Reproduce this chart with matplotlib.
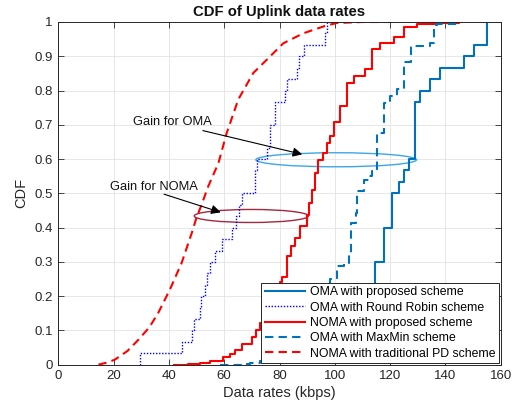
import matplotlib
matplotlib.use("Agg")
import matplotlib.pyplot as plt
from matplotlib.patches import Ellipse

plt.rcParams['font.family'] = ['Liberation Sans', 'DejaVu Sans']

# ---------------- data ----------------
oma_prop_x = [99.5, 103.5, 106.5, 109.5, 112.5, 114.7, 117.7, 120.6, 123.2, 125.0,
              126.8, 128.9, 130.9, 134.6, 138.2, 146.7, 150.2, 155.1]
oma_prop_y = [0.033, 0.067, 0.1, 0.167, 0.2, 0.3, 0.4, 0.5, 0.533, 0.567,
              0.6, 0.767, 0.8, 0.833, 0.867, 0.9, 0.933, 1.0]

oma_rr_x = [29.6, 29.6, 44.9, 48.3, 49.0, 51.1, 51.7, 53.0, 53.7, 55.0, 56.8, 59.2, 62.9,
            64.1, 65.3, 66.5, 71.2, 71.9, 75.5, 76.7, 78.5, 82.1, 82.8, 86.4, 87.0,
            88.8, 96.6, 97.2]
oma_rr_y = [0.0, 0.033, 0.067, 0.1, 0.133, 0.167, 0.2, 0.233, 0.267, 0.3, 0.333, 0.367, 0.4,
            0.433, 0.467, 0.5, 0.567, 0.6, 0.633, 0.7, 0.767, 0.8, 0.833, 0.867, 0.9,
            0.933, 0.967, 1.0]

noma_prop_x = [41.8, 47.0, 51.2, 55.0, 59.7, 62.0, 63.9, 66.5, 69.9, 71.5, 72.9, 74.8,
               76.6, 79.0, 80.3, 80.8, 82.6, 84.0, 85.6, 87.4, 89.8, 90.5, 91.6, 92.8,
               94.0, 95.8, 97.0, 98.3, 99.6, 102.0, 104.5, 106.8, 111.0, 113.5, 116.5,
               121.3, 125.0, 129.8, 137.0, 145.0]
noma_prop_y = [0.0, 0.001, 0.004, 0.01, 0.023, 0.032, 0.043, 0.06, 0.082, 0.1, 0.121, 0.14,
               0.16, 0.219, 0.24, 0.257, 0.316, 0.345, 0.37, 0.404, 0.437, 0.473, 0.51, 0.56,
               0.598, 0.617, 0.647, 0.666, 0.707, 0.755, 0.823, 0.843, 0.863, 0.92, 0.94,
               0.955, 0.984, 0.994, 0.998, 1.0]

oma_maxmin_x = [58.6, 66.0, 69.4, 73.1, 80.0, 86.0, 91.0, 95.0, 98.4, 100.8, 103.2, 105.1,
                105.7, 107.5, 108.1, 110.4, 112.2, 113.4, 115.3, 117.7, 120.1, 122.6,
                125.0, 127.4, 134.6, 135.8, 137.0, 144.3]
oma_maxmin_y = [0.0, 0.003, 0.005, 0.01, 0.02, 0.05, 0.1, 0.17, 0.249, 0.287, 0.297, 0.32,
                0.414, 0.443, 0.507, 0.54, 0.55, 0.565, 0.677, 0.765, 0.785, 0.804,
                0.882, 0.93, 0.94, 0.99, 0.994, 1.0]

noma_pd_x = [14.5, 18.0, 20.5, 25.0, 29.0, 33.0, 36.2, 40.4, 44.6, 48.3, 50.0, 51.7, 54.2,
             57.9, 60.9, 65.1, 70.5, 75.4, 81.4, 88.6, 97.0, 100.7, 110.0, 121.0]
noma_pd_y = [0.0, 0.007, 0.015, 0.04, 0.073, 0.11, 0.152, 0.22, 0.297, 0.385, 0.43, 0.464,
             0.52, 0.588, 0.676, 0.774, 0.851, 0.89, 0.938, 0.967, 0.99, 0.997, 1.0, 1.0]

labels = ["OMA with proposed scheme", "OMA with Round Robin scheme",
          "NOMA with proposed scheme", "OMA with MaxMin scheme",
          "NOMA with traditional PD scheme"]

x_ticks = [0, 20, 40, 60, 80, 100, 120, 140, 160]
y_ticks = [0, 0.1, 0.2, 0.3, 0.4, 0.5, 0.6, 0.7, 0.8, 0.9, 1]
y_tick_labels = ["0", "0.1", "0.2", "0.3", "0.4", "0.5", "0.6", "0.7", "0.8", "0.9", "1"]

# ---------------- figure ----------------
fig = plt.figure(figsize=(5.27, 4.11), dpi=100)
ax = fig.add_axes([58.3 / 527, 1 - 364.7 / 411, (500.7 - 58.3) / 527, (364.7 - 22) / 411])

c_oma = "#0072BD"
ax.plot(oma_prop_x, oma_prop_y, color=c_oma, lw=1.5, drawstyle='steps-post', label=labels[0])
ax.plot(oma_rr_x, oma_rr_y, color="#0000FF", lw=1.0, ls=(0, (1, 1.2)), drawstyle='steps-post', label=labels[1])
ax.plot(noma_prop_x, noma_prop_y, color="#FF0000", lw=1.5, drawstyle='steps-post', label=labels[2])
ax.plot(oma_maxmin_x, oma_maxmin_y, color=c_oma, lw=1.5, ls=(0, (4, 2.5)), drawstyle='steps-post', label=labels[3])
ax.plot(noma_pd_x, noma_pd_y, color="#FF0000", lw=1.5, ls=(0, (4, 2.5)), label=labels[4])

# ellipses
ax.add_patch(Ellipse((100.5, 0.598), 58.1, 0.041, fill=False, ec="#3BA7E8", lw=1.0))
ax.add_patch(Ellipse((69.8, 0.434), 41.3, 0.038, fill=False, ec="#A3283F", lw=1.0))

# annotations
ax.annotate("", xy=(89.2, 0.612), xytext=(51.3, 0.685),
            arrowprops=dict(arrowstyle='-|>', color='black', lw=0.8, mutation_scale=14))
ax.text(26.9, 0.708, "Gain for OMA", fontsize=9.3, va='center', ha='left', color='#111111')
ax.annotate("", xy=(59.7, 0.442), xytext=(37.3, 0.50),
            arrowprops=dict(arrowstyle='-|>', color='black', lw=0.8, mutation_scale=14))
ax.text(18.7, 0.519, "Gain for NOMA", fontsize=9.3, va='center', ha='left', color='#111111')

ax.set_xlim(0, 160)
ax.set_ylim(0, 1)
ax.set_xticks(x_ticks)
ax.set_yticks(y_ticks)
ax.set_yticklabels(y_tick_labels)
ax.tick_params(direction='in', top=True, right=True, length=4, width=0.6,
               labelsize=9.5, colors='#262626', pad=4)
ax.grid(True, color='#E3E3E3', lw=0.6)
ax.set_axisbelow(True)
for s in ax.spines.values():
    s.set_color('#262626')
    s.set_linewidth(0.7)

ax.set_title("CDF of Uplink data rates", fontsize=10.7, fontweight='bold', pad=4, color='#111111')
ax.set_xlabel("Data rates (kbps)", fontsize=10.5, color='#262626', labelpad=3)
ax.set_ylabel("CDF", fontsize=10.5, color='#262626', labelpad=4)

leg = ax.legend(loc='lower right', bbox_to_anchor=(0.997, 0.004), borderaxespad=0,
                fontsize=8.8, frameon=True, fancybox=False, framealpha=1,
                edgecolor='#262626', handlelength=3.3, handletextpad=0.4,
                labelspacing=0.27, borderpad=0.3)
leg.get_frame().set_linewidth(0.7)

fig.savefig("out.png", dpi=100)
